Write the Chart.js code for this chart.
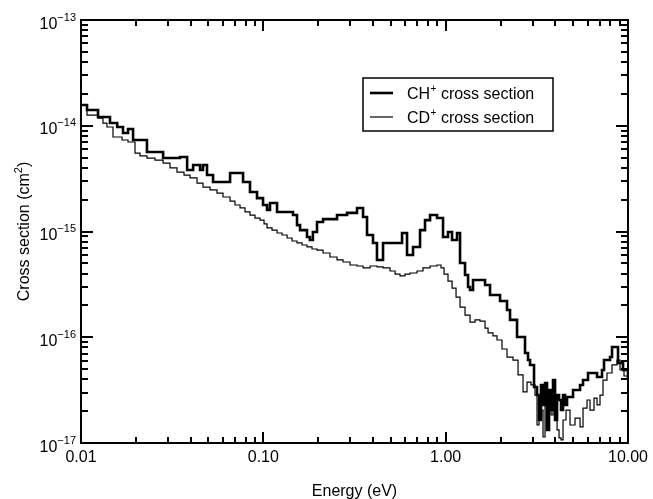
<!DOCTYPE html>
<html>
<head>
<meta charset="utf-8">
<script src="https://cdn.jsdelivr.net/npm/chart.js@4.4.1/dist/chart.umd.min.js"></script>
<style>
  html, body { margin: 0; padding: 0; background: #fff; }
  canvas { display: block; }
</style>
</head>
<body>
<canvas id="chart" width="653" height="499"></canvas>
<script>
// CH+ cross section (cm^2) versus collision energy (eV), histogram bins (left edges)
const chEnergy = [0.0100, 0.01079, 0.0124, 0.01442, 0.0158, 0.0170, 0.01811, 0.0193, 0.0230, 0.0282,
  0.03491, 0.0382, 0.0412, 0.0450, 0.04669, 0.0491, 0.0530, 0.0657, 0.0774, 0.0845,
  0.09235, 0.0996, 0.1048, 0.1088, 0.1189, 0.1455, 0.153, 0.159, 0.1736, 0.180,
  0.187, 0.197, 0.2126, 0.2536, 0.2877, 0.3265, 0.3523, 0.3704, 0.3995, 0.420,
  0.4534, 0.5143, 0.5765, 0.6139, 0.6622, 0.7235, 0.7704, 0.821, 0.897, 0.9672,
  1.030, 1.084, 1.154, 1.199, 1.277, 1.327, 1.360, 1.413, 1.644, 1.751,
  1.987, 2.170, 2.254, 2.463, 2.724, 2.829, 2.902, 3.052, 3.170, 3.251,
  3.334, 3.420, 3.508, 3.597, 3.689, 3.784, 3.880, 3.980, 4.082, 4.186,
  4.293, 4.403, 4.515, 4.631, 4.995, 5.458, 5.667, 6.036, 6.762, 7.203,
  7.387, 7.968, 8.172, 8.705, 8.816, 9.389, 10.0];
const chSigma = [1.57e-14, 1.41e-14, 1.21e-14, 1.06e-14, 9.73e-15, 8.54e-15, 9.32e-15, 7.33e-15, 5.65e-15, 4.95e-15,
  5.07e-15, 3.82e-15, 4.25e-15, 3.82e-15, 4.25e-15, 3.42e-15, 2.94e-15, 3.57e-15, 2.94e-15, 2.36e-15,
  2.07e-15, 1.78e-15, 1.60e-15, 1.86e-15, 1.53e-15, 1.43e-15, 1.15e-15, 1.03e-15, 8.87e-16, 8.31e-16,
  9.90e-16, 1.23e-15, 1.31e-15, 1.43e-15, 1.50e-15, 1.67e-15, 1.37e-15, 9.27e-16, 7.79e-16, 5.38e-16,
  7.79e-16, 7.79e-16, 9.68e-16, 5.99e-16, 7.14e-16, 1.03e-15, 1.28e-15, 1.43e-15, 1.34e-15, 8.87e-16,
  9.90e-16, 8.31e-16, 9.68e-16, 5.04e-16, 3.88e-16, 2.99e-16, 2.80e-16, 3.48e-16, 3.12e-16, 2.51e-16,
  2.20e-16, 1.81e-16, 1.46e-16, 1.006e-16, 7.10e-17, 6.09e-17, 5.47e-17, 3.39e-17, 2.84e-17, 1.65e-17,
  3.54e-17, 2.29e-17, 3.69e-17, 1.33e-17, 3.17e-17, 2.05e-17, 3.94e-17, 1.65e-17, 2.84e-17, 2.55e-17,
  2.05e-17, 2.84e-17, 2.29e-17, 2.72e-17, 3.17e-17, 3.54e-17, 3.94e-17, 4.59e-17, 4.21e-17, 4.90e-17,
  6.09e-17, 6.50e-17, 8.09e-17, 8.09e-17, 5.71e-17, 4.90e-17, 4.12e-17];

// CD+ cross section (cm^2) versus collision energy (eV)
const cdEnergy = [0.01065, 0.01079, 0.0124, 0.0132, 0.01388, 0.01498, 0.01679, 0.01811, 0.01978, 0.02107,
  0.0230, 0.02546, 0.0282, 0.03077, 0.0336, 0.03673, 0.03962, 0.04329, 0.04669, 0.05101,
  0.05572, 0.0601, 0.0657, 0.0699, 0.0745, 0.07935, 0.0845, 0.0900, 0.0959, 0.1009,
  0.1048, 0.1116, 0.1189, 0.1266, 0.135, 0.1437, 0.153, 0.163, 0.1736, 0.1849,
  0.197, 0.2126, 0.232, 0.2536, 0.2736, 0.299, 0.3265, 0.3523, 0.385, 0.420,
  0.4534, 0.4953, 0.528, 0.5619, 0.5984, 0.6374, 0.6965, 0.751, 0.821, 0.897,
  0.943, 0.9795, 1.030, 1.084, 1.140, 1.199, 1.277, 1.360, 1.449, 1.543,
  1.644, 1.708, 1.818, 1.912, 2.037, 2.170, 2.341, 2.494, 2.657, 2.794,
  2.938, 3.091, 3.170, 3.251, 3.334, 3.420, 3.508, 3.597, 3.689, 3.784,
  3.880, 3.980, 4.082, 4.186, 4.293, 4.403, 4.572, 4.808, 5.122, 5.458,
  5.667, 5.961, 6.191, 6.511, 6.762, 7.023, 7.294, 7.671, 8.172, 8.705,
  9.041, 9.509, 10.0];
const cdSigma = [1.41e-14, 1.26e-14, 1.18e-14, 1.06e-14, 9.73e-15, 7.83e-15, 7.33e-15, 7.02e-15, 5.52e-15, 5.18e-15,
  4.95e-15, 4.74e-15, 4.44e-15, 3.99e-15, 3.65e-15, 3.42e-15, 3.21e-15, 2.87e-15, 2.63e-15, 2.47e-15,
  2.31e-15, 2.12e-15, 1.94e-15, 1.78e-15, 1.67e-15, 1.53e-15, 1.43e-15, 1.34e-15, 1.28e-15, 1.18e-15,
  1.08e-15, 1.03e-15, 9.68e-16, 9.27e-16, 8.68e-16, 8.13e-16, 7.79e-16, 7.45e-16, 7.14e-16, 6.83e-16,
  6.68e-16, 6.26e-16, 5.74e-16, 5.38e-16, 5.15e-16, 4.82e-16, 4.72e-16, 4.52e-16, 4.72e-16, 4.62e-16,
  4.52e-16, 4.23e-16, 3.96e-16, 3.80e-16, 3.96e-16, 4.05e-16, 4.23e-16, 4.52e-16, 4.72e-16, 4.82e-16,
  4.52e-16, 3.96e-16, 3.40e-16, 2.92e-16, 2.40e-16, 1.93e-16, 1.62e-16, 1.39e-16, 1.46e-16, 1.42e-16,
  1.22e-16, 1.10e-16, 1.03e-16, 9.42e-17, 7.74e-17, 6.50e-17, 6.09e-17, 4.40e-17, 3.04e-17, 3.77e-17,
  3.54e-17, 2.84e-17, 1.48e-17, 2.55e-17, 2.05e-17, 1.14e-17, 2.29e-17, 1.65e-17, 2.55e-17, 1.84e-17,
  2.66e-17, 1.65e-17, 1.33e-17, 1.12e-17, 1.07e-17, 1.65e-17, 2.05e-17, 1.48e-17, 1.72e-17, 1.42e-17,
  2.14e-17, 2.55e-17, 2.05e-17, 2.66e-17, 2.29e-17, 2.84e-17, 3.94e-17, 4.59e-17, 5.47e-17, 6.09e-17,
  4.90e-17, 4.30e-17, 3.69e-17];

// Axis labels
const xTickValues = [0.01, 0.1, 1, 10];
const xTickLabels = ['0.01', '0.10', '1.00', '10.00'];
const yTickExponents = [-13, -14, -15, -16, -17];
const seriesIons = [['CH', '+'], ['CD', '+']];

const FONT = '"Liberation Sans", Arial, Helvetica, sans-serif';

function toPoints(xs, ys) {
  return xs.map((x, i) => ({ x: x, y: ys[i] }));
}

// Draws the boxed frame, inward ticks on all four sides, labels, titles and legend
const framePlugin = {
  id: 'frame',
  afterDatasetsDraw(chart) {
    const { ctx, chartArea: a, scales } = chart;
    const xs = scales.x, ys = scales.y;
    ctx.save();
    ctx.strokeStyle = '#000';
    ctx.fillStyle = '#000';
    ctx.lineWidth = 2;
    ctx.strokeRect(a.left, a.top, a.right - a.left, a.bottom - a.top);

    // x ticks (bottom + top)
    ctx.beginPath();
    const xVals = [];
    for (let d = -2; d <= 0; d++) for (let m = 1; m <= 9; m++) xVals.push([m * Math.pow(10, d), m === 1]);
    xVals.push([10, true]);
    xVals.forEach(([v, major]) => {
      const p = Math.round(xs.getPixelForValue(v));
      const len = major ? 11 : 6;
      ctx.moveTo(p, a.bottom); ctx.lineTo(p, a.bottom - len);
      ctx.moveTo(p, a.top); ctx.lineTo(p, a.top + len);
    });
    // y ticks (left + right)
    const yVals = [];
    for (let d = -17; d <= -14; d++) for (let m = 1; m <= 9; m++) yVals.push([m * Math.pow(10, d), m === 1]);
    yVals.push([1e-13, true]);
    yVals.forEach(([v, major]) => {
      const p = Math.round(ys.getPixelForValue(v));
      const len = major ? 12 : 7;
      ctx.moveTo(a.left, p); ctx.lineTo(a.left + len, p);
      ctx.moveTo(a.right, p); ctx.lineTo(a.right - len, p);
    });
    ctx.stroke();

    // x tick labels
    ctx.font = '16px ' + FONT;
    ctx.textAlign = 'center';
    ctx.textBaseline = 'alphabetic';
    xTickValues.forEach((v, i) => {
      ctx.fillText(xTickLabels[i], xs.getPixelForValue(v), a.bottom + 19);
    });

    // y tick labels: 10 with raised exponent
    yTickExponents.forEach((e) => {
      const p = ys.getPixelForValue(Math.pow(10, e));
      const sup = '\u2212' + String(-e);
      ctx.font = '11px ' + FONT;
      const wSup = ctx.measureText(sup).width;
      ctx.font = '16px ' + FONT;
      const wBase = ctx.measureText('10').width;
      const right = a.left - 5;
      ctx.textAlign = 'left';
      ctx.fillText('10', right - wSup - wBase, p + 8.5);
      ctx.font = '11px ' + FONT;
      ctx.fillText(sup, right - wSup, p + 0.5);
    });

    // x axis title
    ctx.font = '16px ' + FONT;
    ctx.textAlign = 'center';
    ctx.fillText('Energy (eV)', (a.left + a.right) / 2, a.bottom + 53);

    // y axis title, rotated, with raised exponent
    ctx.save();
    ctx.translate(29, (a.top + a.bottom) / 2);
    ctx.rotate(-Math.PI / 2);
    const t1 = 'Cross section (cm', t2 = '2', t3 = ')';
    ctx.font = '16px ' + FONT;
    const w1 = ctx.measureText(t1).width, w3 = ctx.measureText(t3).width;
    ctx.font = '11px ' + FONT;
    const w2 = ctx.measureText(t2).width;
    let sx = -(w1 + w2 + w3) / 2;
    ctx.textAlign = 'left';
    ctx.font = '16px ' + FONT;
    ctx.fillText(t1, sx, 0); sx += w1;
    ctx.font = '11px ' + FONT;
    ctx.fillText(t2, sx, -7); sx += w2;
    ctx.font = '16px ' + FONT;
    ctx.fillText(t3, sx, 0);
    ctx.restore();

    // legend box
    const lx = 363, ly = 78, lw = 190, lh = 53;
    ctx.lineWidth = 1.5;
    ctx.strokeRect(lx, ly, lw, lh);
    chart.data.datasets.forEach((ds, i) => {
      const rowY = ly + 15 + i * 24;
      ctx.lineWidth = ds.borderWidth;
      ctx.beginPath();
      ctx.moveTo(lx + 7, rowY); ctx.lineTo(lx + 30, rowY);
      ctx.stroke();
      const [ion, charge] = seriesIons[i];
      let tx = lx + 44;
      ctx.font = '16px ' + FONT;
      ctx.textAlign = 'left';
      ctx.fillText(ion, tx, rowY + 5.5);
      tx += ctx.measureText(ion).width;
      ctx.font = '10px ' + FONT;
      ctx.fillText(charge, tx + 0.5, rowY - 1.5);
      tx += ctx.measureText(charge).width + 0.5;
      ctx.font = '16px ' + FONT;
      ctx.fillText(' cross section', tx, rowY + 5.5);
    });
    ctx.restore();
  }
};

new Chart(document.getElementById('chart'), {
  type: 'line',
  data: {
    datasets: [
      {
        label: 'CH+ cross section',
        data: toPoints(chEnergy, chSigma),
        borderColor: '#000',
        borderWidth: 2.6,
        stepped: 'before',
        pointRadius: 0,
        fill: false
      },
      {
        label: 'CD+ cross section',
        data: toPoints(cdEnergy, cdSigma),
        borderColor: '#000',
        borderWidth: 1.2,
        stepped: 'before',
        pointRadius: 0,
        fill: false
      }
    ]
  },
  options: {
    responsive: false,
    animation: false,
    events: [],
    layout: { padding: { left: 81, right: 25, top: 20, bottom: 56 } },
    plugins: { legend: { display: false }, tooltip: { enabled: false } },
    scales: {
      x: { type: 'logarithmic', min: 0.01, max: 10, display: false },
      y: { type: 'logarithmic', min: 1e-17, max: 1e-13, display: false }
    }
  },
  plugins: [framePlugin]
});
</script>
</body>
</html>
